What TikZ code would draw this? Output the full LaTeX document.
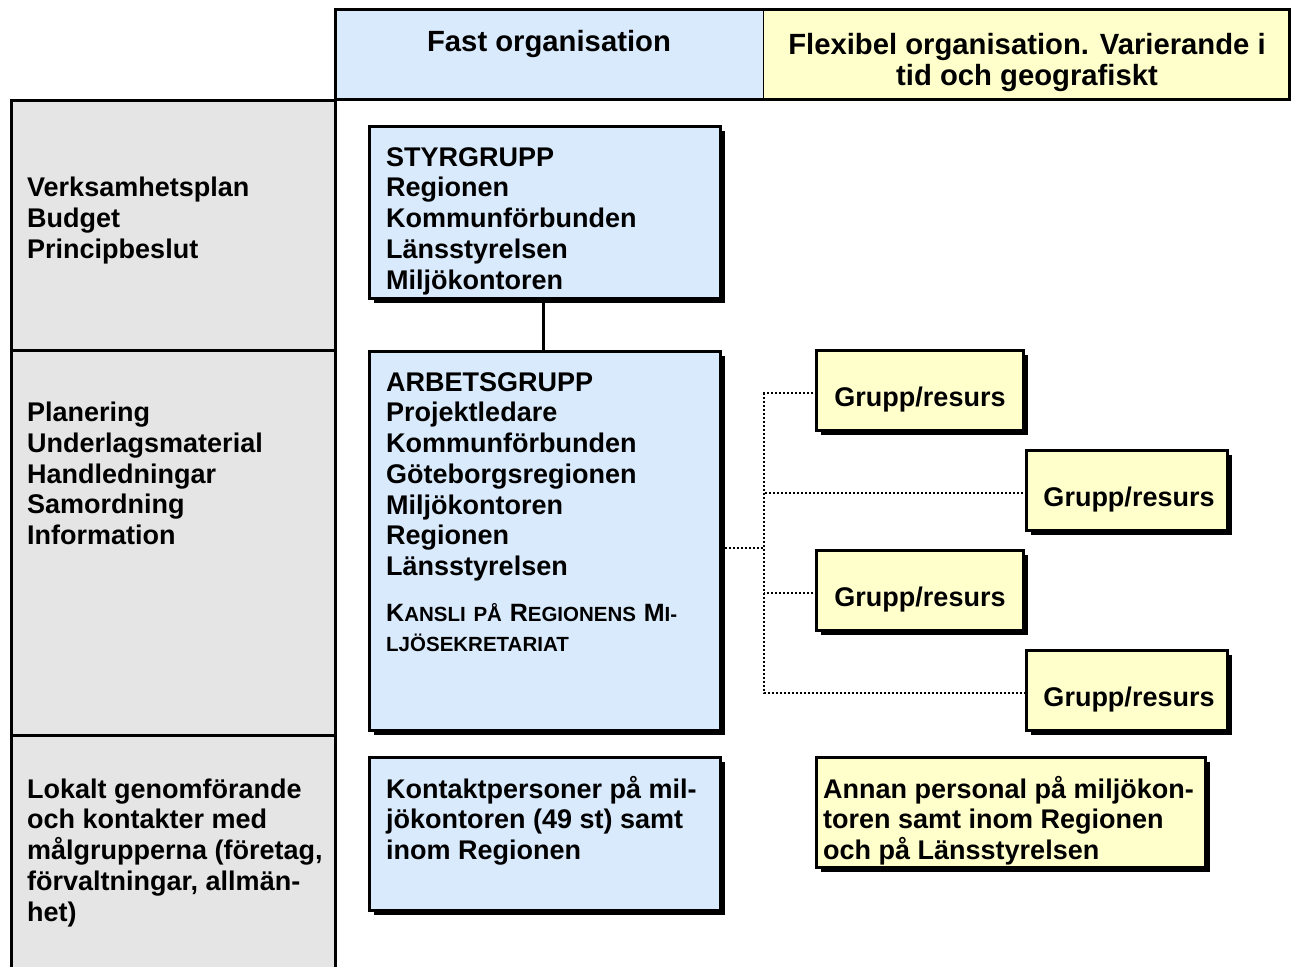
\documentclass[tikz,border=0pt]{standalone}
\usepackage{fontspec}
\setmainfont{Liberation Sans}
\usetikzlibrary{shadows,calc}
\definecolor{pblue}{RGB}{217,234,252}
\definecolor{pyellow}{RGB}{255,255,204}
\definecolor{pgrey}{RGB}{229,229,229}
\newcommand\bodyfont{\fontsize{27}{30.7}\selectfont\bfseries}
\newcommand\hdrfont{\fontsize{29.25}{31}\selectfont\bfseries}
\newcommand\topstrut{\rule{0pt}{23pt}}
\newcommand\kbigfont{\fontsize{25}{30}\selectfont\bfseries}
\newcommand\ksmallfont{\fontsize{20.5}{30}\selectfont\bfseries}
\begin{document}
\begin{tikzpicture}[x=1pt,y=-1pt,
  box/.style={draw=black, line width=3pt, rectangle, inner sep=0pt, outer sep=0pt,
    anchor=north west,
    drop shadow={shadow xshift=4.5pt, shadow yshift=-4.5pt, fill=black, opacity=1}},
  bluebox/.style={box, fill=pblue},
  yellowbox/.style={box, fill=pyellow},
  colcell/.style={draw=black, line width=3pt, fill=pgrey, rectangle, inner sep=0pt,
    outer sep=0pt, anchor=north west},
  txt/.style={anchor=north west, inner sep=0pt, align=left, font=\bodyfont},
  dotline/.style={line width=2pt, dash pattern=on 2pt off 2pt},
  solidline/.style={line width=3pt}
]
\useasboundingbox (0,0) rectangle (1292,966);
\clip (0,0) rectangle (1292,966);
\fill[white] (0,0) rectangle (1292,966);

% header
\node[fill=pblue, anchor=north west, inner sep=0pt, outer sep=0pt,
  minimum width=427.5pt, minimum height=90pt] (fast) at (335.5,9.5) {};
\node[fill=pyellow, anchor=north west, inner sep=0pt, outer sep=0pt,
  minimum width=526.5pt, minimum height=90pt] (flex) at (763,9.5) {};
\draw[line width=3pt] (fast.north west) rectangle (flex.south east);
\draw[line width=1pt] (fast.north east) -- (fast.south east);
\node[anchor=base, inner sep=0pt, font=\hdrfont] (fastT) at (549,52) {Fast organisation};
\node[anchor=north, inner sep=0pt, align=center, font=\hdrfont] (flexT) at (1027,31)
  {\topstrut Flexibel organisation. Varierande i\\tid och geografiskt};

% left column
\node[colcell, minimum width=324pt, minimum height=250pt] (r1) at (11.5,100) {};
\node[colcell, minimum width=324pt, minimum height=385pt] (r2) at (11.5,350) {};
\node[colcell, minimum width=324pt, minimum height=245pt] (r3) at (11.5,735) {};
\node[txt] (r1T) at (27,173.5) {\topstrut Verksamhetsplan\\Budget\\Principbeslut};
\node[txt] (r2T) at (27,398.5) {\topstrut Planering\\Underlagsmaterial\\Handledningar\\Samordning\\Information};
\node[txt] (r3T) at (27,775) {\topstrut Lokalt genomförande\\och kontakter med\\målgrupperna (företag,\\förvaltningar, allmän-\\het)};

% fixed organisation boxes
\node[bluebox, minimum width=351pt, minimum height=172pt] (sty) at (369.5,126.5) {};
\node[bluebox, minimum width=351pt, minimum height=379pt] (arb) at (369.5,351.5) {};
\node[bluebox, minimum width=351pt, minimum height=153pt] (kon) at (369.5,757.5) {};
\draw[solidline] (sty.south -| 543,0) -- (arb.north -| 543,0);

\node[txt] (styT) at (386,143) {\topstrut STYRGRUPP\\Regionen\\Kommunförbunden\\Länsstyrelsen\\Miljökontoren};
\node[txt] (arbT) at (386,368) {\topstrut ARBETSGRUPP\\Projektledare\\Kommunförbunden\\Göteborgsregionen\\Miljökontoren\\Regionen\\Länsstyrelsen};
\node[anchor=base west, inner sep=0pt] (kansli1) at (386,621)
  {\makebox[291pt][s]{{\kbigfont K}{\ksmallfont ANSLI PÅ }{\kbigfont R}{\ksmallfont EGIONENS }{\kbigfont M}{\ksmallfont I-}}};
\node[anchor=base west, inner sep=0pt] (kansli2) at (386,651) {\ksmallfont LJÖSEKRETARIAT};
\node[txt] (konT) at (386,775) {\topstrut Kontaktpersoner på mil-\\jökontoren (49 st) samt\\inom Regionen};

% flexible organisation boxes
\node[yellowbox, minimum width=207pt, minimum height=80pt] (g1) at (816.5,350.5) {};
\node[yellowbox, minimum width=201pt, minimum height=80pt] (g2) at (1026.5,450.5) {};
\node[yellowbox, minimum width=207pt, minimum height=80pt] (g3) at (816.5,550.5) {};
\node[yellowbox, minimum width=201pt, minimum height=80pt] (g4) at (1026.5,650.5) {};
\node[yellowbox, minimum width=389pt, minimum height=110pt] (ann) at (816.5,757.5) {};

\node[anchor=base, inner sep=0pt, font=\bodyfont] (g1T) at (920,406) {Grupp/resurs};
\node[anchor=base, inner sep=0pt, font=\bodyfont] (g2T) at (1129,506) {Grupp/resurs};
\node[anchor=base, inner sep=0pt, font=\bodyfont] (g3T) at (920,606) {Grupp/resurs};
\node[anchor=base, inner sep=0pt, font=\bodyfont] (g4T) at (1129,706) {Grupp/resurs};
\node[txt] (annT) at (823,775) {\topstrut Annan personal på miljökon-\\toren samt inom Regionen\\och på Länsstyrelsen};

% dotted connectors
\coordinate (jx) at (764,548);
\coordinate (p1) at ([yshift=-2.5pt]g1.west);
\coordinate (p2) at ([yshift=-2.5pt]g2.west);
\coordinate (p3) at ([yshift=-2.5pt]g3.west);
\coordinate (p4) at ([yshift=-2.5pt]g4.west);
\draw[dotline] (arb.east |- jx) -- (jx);
\draw[dotline] (p1) -- (p1 -| jx) -- (p4 -| jx) -- (p4);
\draw[dotline] (p2) -- (p2 -| jx);
\draw[dotline] (p3) -- (p3 -| jx);
\end{tikzpicture}
\end{document}
